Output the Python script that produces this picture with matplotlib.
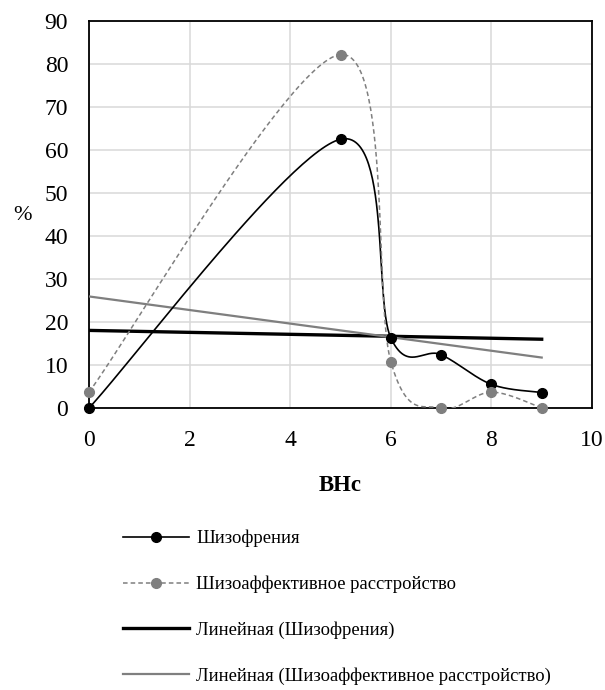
import numpy as np
import matplotlib
matplotlib.use("Agg")
import matplotlib.pyplot as plt
from matplotlib.lines import Line2D

plt.rcParams['font.family'] = ['Liberation Serif', 'DejaVu Serif']

# данные
x = [0, 5, 6, 7, 8, 9]
shiz = [0, 62.5, 16.3, 12.4, 5.5, 3.6]
shiz_aff = [3.7, 82.2, 10.8, 0, 3.7, 0]
lbl_shiz = "Шизофрения"
lbl_aff = "Шизоаффективное расстройство"
lbl_tr1 = "Линейная (Шизофрения)"
lbl_tr2 = "Линейная (Шизоаффективное расстройство)"


# сглаживание как в Excel (Catmull-Rom -> Bezier)
def smooth(xs, ys, n=60):
    P = np.column_stack([xs, ys]).astype(float)
    out = []
    for i in range(len(P) - 1):
        p0 = P[max(i - 1, 0)]
        p1 = P[i]
        p2 = P[i + 1]
        p3 = P[min(i + 2, len(P) - 1)]
        c1 = p1 + (p2 - p0) / 6
        c2 = p2 - (p3 - p1) / 6
        t = np.linspace(0, 1, n)[:, None]
        seg = (1 - t) ** 3 * p1 + 3 * (1 - t) ** 2 * t * c1 + 3 * (1 - t) * t ** 2 * c2 + t ** 3 * p2
        out.append(seg)
    out = np.vstack(out)
    return out[:, 0], out[:, 1]


fig = plt.figure(figsize=(6.05, 6.9), dpi=100)
ax = fig.add_axes([89 / 605, 1 - 408 / 690, (592 - 89) / 605, (408 - 21) / 690])

grey = '#7f7f7f'

# линии тренда
xt = np.array([x[0], x[-1]])
k1, b1 = np.polyfit(x, shiz, 1)
k2, b2 = np.polyfit(x, shiz_aff, 1)
ax.plot(xt, k1 * xt + b1, color='black', lw=2.4, zorder=3)
ax.plot(xt, k2 * xt + b2, color=grey, lw=1.6, zorder=3)

sx, sy = smooth(x, shiz)
ax.plot(sx, sy, color='black', lw=1.2, zorder=4)
ax.plot(x, shiz, 'o', color='black', ms=7, zorder=5, clip_on=False)

sx2, sy2 = smooth(x, shiz_aff)
ax.plot(sx2, sy2, color=grey, lw=1.1, ls=(0, (3, 2)), zorder=4)
ax.plot(x, shiz_aff, 'o', color=grey, ms=7, zorder=5, clip_on=False)

ax.set_xlim(0, 10)
ax.set_ylim(0, 90)
ax.set_xticks(np.arange(0, 11, 2))
ax.set_yticks(np.arange(0, 91, 10))
ax.grid(True, color='#d9d9d9', lw=1.1)
ax.set_axisbelow(True)
ax.tick_params(length=0, labelsize=17)
ax.tick_params(axis='x', pad=16)
ax.tick_params(axis='y', pad=15)
for s in ax.spines.values():
    s.set_color('black')
    s.set_linewidth(1.3)

ax.set_xlabel("ВНс", fontsize=16.5, fontweight='bold', labelpad=17)
fig.text(22 / 605, 1 - 216 / 690, "%", fontsize=16, ha='center', va='center')

handles = [
    Line2D([], [], color='black', lw=1.2, marker='o', ms=7),
    Line2D([], [], color=grey, lw=1.1, ls=(0, (3, 2)), marker='o', ms=7),
    Line2D([], [], color='black', lw=2.4),
    Line2D([], [], color=grey, lw=1.6),
]
fig.legend(handles, [lbl_shiz, lbl_aff, lbl_tr1, lbl_tr2], loc='upper left',
           bbox_to_anchor=(106 / 605, 1 - 513 / 690), frameon=False,
           fontsize=13.4, handlelength=3.55, labelspacing=1.52, handletextpad=0.4,
           markerfirst=True)

fig.savefig("out.png", dpi=100)
